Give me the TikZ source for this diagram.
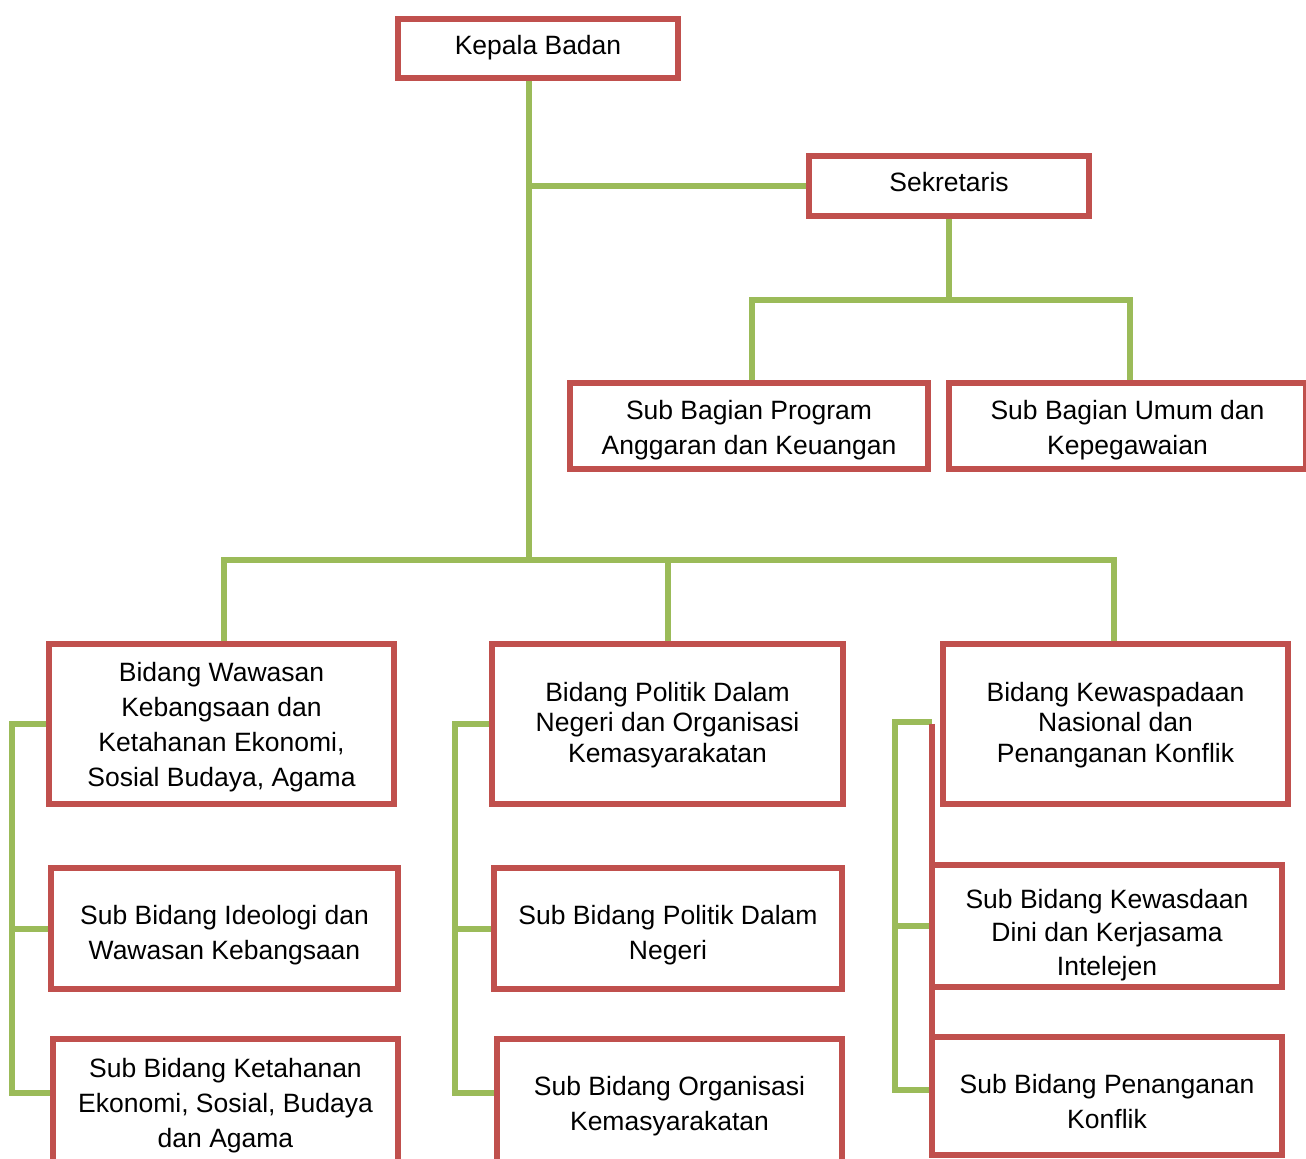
\documentclass[tikz,border=0pt]{standalone}
\usepackage{fontspec}
\setmainfont{Liberation Sans}
\usetikzlibrary{backgrounds}
\definecolor{boxred}{HTML}{C0504D}
\definecolor{lingreen}{HTML}{9BBB59}
\begin{document}
\begin{tikzpicture}[x=0.5pt,y=-0.5pt,
  box/.style={draw=boxred, line width=3pt, rectangle, outer sep=0pt, inner sep=0pt},
  txt/.style={inner sep=0pt, align=center, font=\fontsize{13.25}{17.5}\selectfont},
  tight/.style={font=\fontsize{13.25}{15.25}\selectfont},
  conn/.style={draw=lingreen, line width=3pt},
  redline/.style={draw=boxred, line width=3pt}]
\useasboundingbox (0,0) rectangle (1306,1159);
% boxes
\node[box, minimum width=140pt, minimum height=29.5pt] (kepala) at (538,48.5) {};
\node[box, minimum width=140pt, minimum height=30pt] (sekretaris) at (949,186) {};
\node[box, minimum width=179pt, minimum height=43pt] (sbprog) at (749,426) {};
\node[box, minimum width=178.5pt, minimum height=43pt] (sbumum) at (1127.5,426) {};
\node[box, minimum width=172.5pt, minimum height=80pt] (bwawasan) at (221.5,724) {};
\node[box, minimum width=175.5pt, minimum height=80pt] (bpolitik) at (667.5,724) {};
\node[box, minimum width=172.5pt, minimum height=80pt] (bkewas) at (1115.5,724) {};
\node[box, minimum width=173.5pt, minimum height=60.5pt] (sbideo) at (224.5,928.5) {};
\node[box, minimum width=172.5pt, minimum height=65.5pt] (sbketah) at (225.5,1104.5) {};
\node[box, minimum width=174pt, minimum height=60.5pt] (sbpoldn) at (668,928.5) {};
\node[box, minimum width=172.5pt, minimum height=64.5pt] (sborg) at (669.5,1103.5) {};
\node[box, minimum width=175pt, minimum height=61pt] (sbkewasd) at (1107,926) {};
\node[box, minimum width=175pt, minimum height=59pt] (sbpenang) at (1107,1096) {};
% texts
\node[txt] (kepala-t) at ([yshift=0.5pt]kepala.center) {Kepala Badan};
\node[txt] (sekretaris-t) at ([yshift=2pt]sekretaris.center) {Sekretaris};
\node[txt] (sbprog-t) at ([yshift=-2.25pt]sbprog.center) {Sub Bagian Program\\Anggaran dan Keuangan};
\node[txt] (sbumum-t) at ([yshift=-2.25pt]sbumum.center) {Sub Bagian Umum dan\\Kepegawaian};
\node[txt] (bwawasan-t) at ([yshift=-1.5pt]bwawasan.center) {Bidang Wawasan\\Kebangsaan dan\\Ketahanan Ekonomi,\\Sosial Budaya, Agama};
\node[txt, tight] (bpolitik-t) at ([yshift=-0.5pt]bpolitik.center) {Bidang Politik Dalam\\Negeri dan Organisasi\\Kemasyarakatan};
\node[txt, tight] (bkewas-t) at ([yshift=-0.5pt]bkewas.center) {Bidang Kewaspadaan\\Nasional dan\\Penanganan Konflik};
\node[txt] (sbideo-t) at ([yshift=-3.5pt]sbideo.center) {Sub Bidang Ideologi dan\\Wawasan Kebangsaan};
\node[txt] (sbketah-t) at ([yshift=-0.5pt]sbketah.center) {Sub Bidang Ketahanan\\Ekonomi, Sosial, Budaya\\dan Agama};
\node[txt] (sbpoldn-t) at ([yshift=-3.5pt]sbpoldn.center) {Sub Bidang Politik Dalam\\Negeri};
\node[txt] (sborg-t) at ([yshift=-1.5pt]sborg.center) {Sub Bidang Organisasi\\Kemasyarakatan};
\node[txt, font=\fontsize{13.25}{16.75}\selectfont] (sbkewasd-t) at ([yshift=-4.5pt]sbkewasd.center) {Sub Bidang Kewasdaan\\Dini dan Kerjasama\\Intelejen};
\node[txt] (sbpenang-t) at ([yshift=-3pt]sbpenang.center) {Sub Bidang Penanganan\\Konflik};
\draw[redline] (sbkewasd.west |- bkewas.west) -- (sbpenang.south west);
\begin{scope}[on background layer]
  \coordinate (ktop) at ([xshift=-4.5pt]kepala.south);
  \coordinate (hub) at (529,560);
  \draw[conn] (ktop) -- (hub);
  \draw[conn] (sekretaris.west) -- (sekretaris.west -| ktop);
  \draw[conn] (sekretaris.south) -- ++(0,84);
  \draw[conn] ([xshift=1.5pt]sbprog.north) -- ++(0,-83) -| ([xshift=1.25pt]sbumum.north);
  \draw[conn] ([xshift=1.25pt]bwawasan.north) -- ++(0,-84) -| ([xshift=-0.75pt]bkewas.north);
  \draw[conn] (bpolitik.north) -- ++(0,-84);
  \coordinate (lbtop) at (12,724);
  \coordinate (lbbot) at (12,1093);
  \draw[conn] (bwawasan.west) -- (lbtop) -- (lbbot) -- (sbketah.west |- lbbot);
  \draw[conn] (sbideo.west) -- (sbideo.west -| lbtop);
  \coordinate (mbtop) at (455,724);
  \coordinate (mbbot) at (455,1093);
  \draw[conn] (bpolitik.west) -- (mbtop) -- (mbbot) -- (sborg.west |- mbbot);
  \draw[conn] (sbpoldn.west) -- (sbpoldn.west -| mbtop);
  \coordinate (rbtop) at (895,722);
  \coordinate (rbbot) at (895,1090);
  \draw[conn] (rbtop -| sbkewasd.west) -- (rbtop) -- (rbbot) -- (rbbot -| sbpenang.west);
  \draw[conn] (sbkewasd.west) -- (sbkewasd.west -| rbtop);
\end{scope}
\end{tikzpicture}
\end{document}
